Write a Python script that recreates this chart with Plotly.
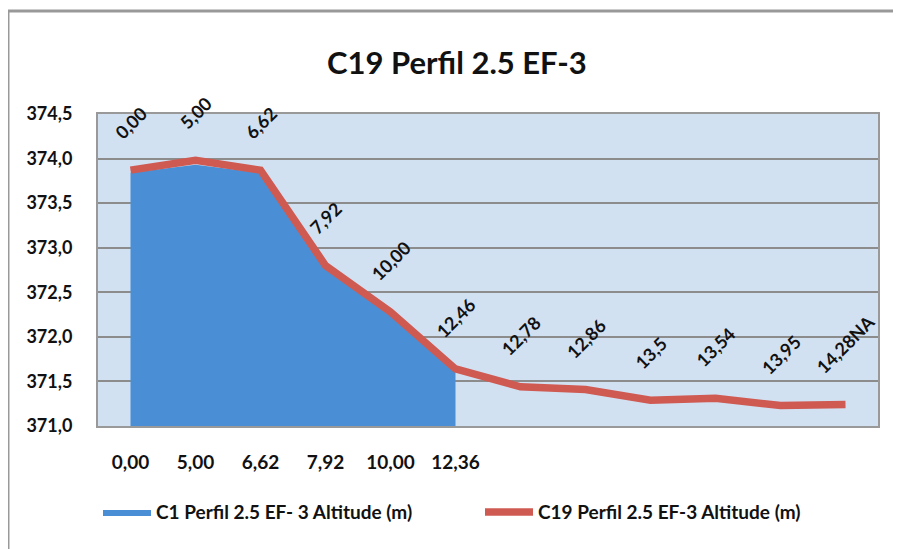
import plotly.graph_objects as go

# ---- data ----
c1_categories = ["0,00", "5,00", "6,62", "7,92", "10,00", "12,36"]
c1_altitude = [373.84, 373.93, 373.84, 372.78, 372.26, 371.62]

c19_labels = ["0,00", "5,00", "6,62", "7,92", "10,00", "12,46", "12,78",
              "12,86", "13,5", "13,54", "13,95", "14,28NA"]
c19_altitude = [373.87, 373.98, 373.87, 372.80, 372.28, 371.64, 371.44,
                371.41, 371.29, 371.31, 371.23, 371.24]

title_text = "C19 Perfil 2.5 EF-3"
c1_name = "C1 Perfil 2.5 EF- 3 Altitude (m)"
c19_name = "C19 Perfil 2.5 EF-3 Altitude (m)"
y_ticks = [371.0, 371.5, 372.0, 372.5, 373.0, 373.5, 374.0, 374.5]

FONT = "Lato, 'Open Sans', sans-serif"
BLUE = "#4a8fd6"
RED = "#cf5a52"

c1_x = list(range(len(c1_altitude)))
c19_x = list(range(len(c19_altitude)))

fig = go.Figure()
fig.add_trace(go.Scatter(
    x=c1_x, y=c1_altitude, name="<b>" + c1_name + "</b>", mode="lines",
    fill="tozeroy", fillcolor=BLUE, line=dict(width=0, color=BLUE),
))
fig.add_trace(go.Scatter(
    x=c19_x, y=c19_altitude, name="<b>" + c19_name + "</b>", mode="lines",
    line=dict(width=7.5, color=RED),
))

annotations = []
for xi, yi, lab in zip(c19_x, c19_altitude, c19_labels):
    annotations.append(dict(
        x=xi, y=yi, xref="x", yref="y", text="<b>" + lab + "</b>", showarrow=False,
        textangle=-45, xanchor="center", yanchor="bottom", yshift=24,
        font=dict(family=FONT, size=18, color="#111"),
    ))
annotations.append(dict(
    x=0.46, y=1.167, xref="paper", yref="paper", text="<b>" + title_text + "</b>",
    showarrow=False, xanchor="center", yanchor="middle",
    font=dict(family=FONT, size=31, color="#111"),
))

shapes = [
    dict(type="line", xref="paper", yref="paper", x0=-0.1154, x1=1.04,
         y0=1.330, y1=1.330, line=dict(color="#999", width=3)),
    dict(type="line", xref="paper", yref="paper", x0=-0.1154, x1=-0.1154,
         y0=1.330, y1=-0.40, line=dict(color="#999", width=3)),
]

fig.update_layout(
    width=893, height=541,
    margin=dict(l=90, r=23, t=106, b=123, autoexpand=False),
    paper_bgcolor="white", plot_bgcolor="#d2e1f2",
    separators=",.",
    font=dict(family=FONT, size=16, color="#111"),
    showlegend=True,
    legend=dict(orientation="h", x=0.0, y=-0.276, xanchor="left", yanchor="middle",
                entrywidth=319, entrywidthmode="pixels", itemwidth=48,
                font=dict(family=FONT, size=19, color="#111"), traceorder="normal"),
    annotations=annotations,
    shapes=shapes,
)
fig.update_xaxes(
    range=[-0.5, len(c19_x) - 0.5], tickvals=c1_x, ticktext=["<b>%s</b>" % c for c in c1_categories],
    showgrid=False, zeroline=False, showline=True, linecolor="#999", linewidth=2,
    mirror=True, ticks="", tickfont=dict(family=FONT, size=19, color="#111"),
    ticklabelstandoff=18, automargin=False,
)
fig.update_yaxes(
    range=[371.0, 374.5], tickvals=y_ticks, ticktext=["<b>%s</b>" % f"{v:.1f}".replace(".", ",") for v in y_ticks],
    showgrid=True, gridcolor="#8c8c8c", gridwidth=2, zeroline=False,
    showline=True, linecolor="#999", linewidth=2, mirror=True, ticks="",
    tickfont=dict(family=FONT, size=18, color="#111"), ticklabelstandoff=20, automargin=False,
)

fig.write_html("out.html")
